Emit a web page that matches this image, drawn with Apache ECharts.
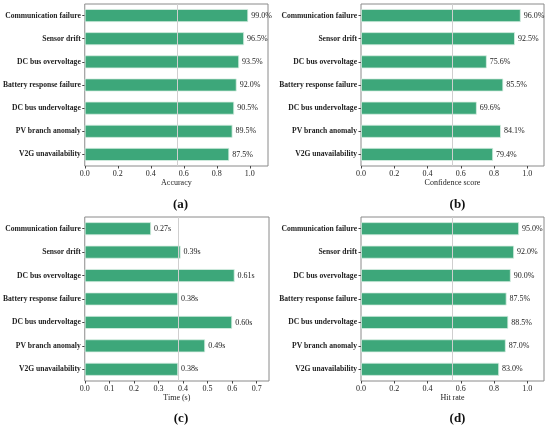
<!DOCTYPE html>
<html>
<head>
<meta charset="utf-8">
<script src="https://cdn.jsdelivr.net/npm/echarts@6/dist/echarts.min.js"></script>
<style>
  html, body { margin: 0; padding: 0; background: #fff; }
  #main { width: 550px; height: 427px; }
</style>
</head>
<body>
<div id="main"></div>
<script>
// fault types, top to bottom
var categories = ['Communication failure', 'Sensor drift', 'DC bus overvoltage',
    'Battery response failure', 'DC bus undervoltage', 'PV branch anomaly', 'V2G unavailability'];

var accuracy   = [0.990, 0.965, 0.935, 0.920, 0.905, 0.895, 0.875];
var confidence = [0.960, 0.925, 0.756, 0.855, 0.696, 0.841, 0.794];
var timeSec    = [0.27, 0.39, 0.61, 0.38, 0.60, 0.49, 0.38];
var hitRate    = [0.950, 0.920, 0.900, 0.875, 0.885, 0.870, 0.830];

var axisNames = ['Accuracy', 'Confidence score', 'Time (s)', 'Hit rate'];
var captions  = ['a', 'b', 'c', 'd'];

var serif = 'Liberation Serif';
var green = '#3da77a';

var grids = [
    {left: 83,  top: 4,   width: 185, height: 162},
    {left: 361, top: 4,   width: 183, height: 162},
    {left: 83,  top: 217, width: 186, height: 164},
    {left: 361, top: 217, width: 183, height: 164}
];
var xMax = [1.11, 1.10, 0.75, 1.10];
var xStep = [0.2, 0.2, 0.1, 0.2];
var xLast = [1.0, 1.0, 0.7, 1.0];
var values = [accuracy, confidence, timeSec, hitRate];

function pct(p){ return (p.value * 100).toFixed(1) + '%'; }
function sec(p){ return p.value.toFixed(2) + 's'; }

var option = {
    backgroundColor: '#fff',
    animation: false,
    title: [],
    grid: [],
    xAxis: [],
    yAxis: [],
    series: []
};

for (var i = 0; i < 4; i++) {
    var g = grids[i];
    option.grid.push({
        left: g.left, top: g.top, width: g.width, height: g.height,
        show: true, borderColor: '#8a8a8a', borderWidth: 1, backgroundColor: 'transparent'
    });
    (function(last, step){
        option.xAxis.push({
            gridIndex: i,
            type: 'value',
            min: 0,
            max: xMax[i],
            interval: step,
            name: axisNames[i],
            nameLocation: 'middle',
            nameGap: 12,
            nameTextStyle: {fontFamily: serif, fontSize: 8, color: '#222'},
            splitLine: {show: false},
            axisLine: {show: false},
            axisTick: {show: true, length: 2.5, lineStyle: {color: '#444'}},
            axisLabel: {
                fontFamily: serif, fontSize: 8, color: '#222', margin: 4,
                showMaxLabel: false,
                formatter: function(v){ return v > last + 1e-9 ? '' : v.toFixed(1); }
            }
        });
    })(xLast[i], xStep[i]);
    option.yAxis.push({
        gridIndex: i,
        type: 'category',
        data: categories,
        inverse: true,
        axisLine: {show: false},
        axisTick: {show: true, length: 2.5, alignWithLabel: true, lineStyle: {color: '#444'}},
        axisLabel: {fontFamily: serif, fontSize: 7.6, fontWeight: 'bold', color: '#222', margin: 4}
    });
    option.series.push({
        type: 'bar',
        xAxisIndex: i,
        yAxisIndex: i,
        data: values[i],
        barWidth: 13,
        itemStyle: {color: green, borderColor: '#d9efe3', borderWidth: 0.8},
        label: {
            show: true,
            position: 'right',
            distance: 3,
            fontFamily: serif,
            fontSize: 8,
            color: '#222',
            formatter: i === 2 ? sec : pct
        },
        markLine: {
            silent: true,
            symbol: 'none',
            label: {show: false},
            lineStyle: {color: '#cfcfcf', width: 1, type: 'solid'},
            data: [{xAxis: xMax[i] / 2}]
        }
    });
    option.title.push({
        text: '{p|(}{b|' + captions[i] + '}{p|)}',
        left: g.left + g.width / 2,
        top: i < 2 ? 193 : 407,
        textAlign: 'center',
        textStyle: {
            rich: {
                p: {fontFamily: serif, fontSize: 13, color: '#111'},
                b: {fontFamily: serif, fontSize: 13, fontWeight: 'bold', color: '#111'}
            }
        }
    });
}

echarts.init(document.getElementById('main')).setOption(option);
</script>
</body>
</html>
